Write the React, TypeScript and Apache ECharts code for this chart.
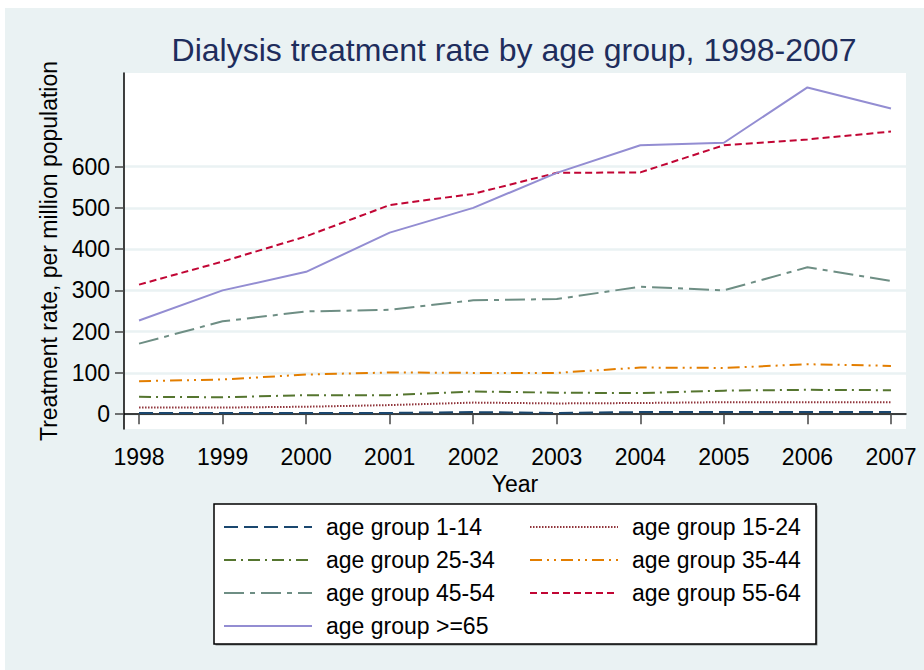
import React, { useEffect, useRef } from "react";
import * as echarts from "echarts";

const years = [1998, 1999, 2000, 2001, 2002, 2003, 2004, 2005, 2006, 2007];
const yTicks = [0, 100, 200, 300, 400, 500, 600];

const age1_14 = [3, 3, 3, 3, 5, 3, 5, 5, 5, 5];
const age15_24 = [16, 16, 18, 22, 28, 26, 27, 29, 29, 29];
const age25_34 = [42, 41, 46, 46, 55, 52, 51, 57, 59, 58];
const age35_44 = [80, 84, 96, 101, 100, 100, 113, 112, 121, 117];
const age45_54 = [171, 225, 249, 253, 276, 279, 309, 300, 356, 323];
const age55_64 = [314, 370, 431, 507, 534, 585, 586, 652, 666, 685];
const age65 = [227, 300, 345, 440, 500, 585, 652, 658, 792, 741];

const seriesNames = [
  "age group 1-14",
  "age group 15-24",
  "age group 25-34",
  "age group 35-44",
  "age group 45-54",
  "age group 55-64",
  "age group >=65",
];
const seriesValues = [age1_14, age15_24, age25_34, age35_44, age45_54, age55_64, age65];
const seriesColors = ["#1a476f", "#90353b", "#55752f", "#e37e00", "#6e8e84", "#c10534", "#938dd2"];
const seriesDash: any[] = [
  [14, 6],
  [1.5, 1.5],
  [12, 5, 2, 5],
  [12, 5, 2, 5, 2, 5],
  [20, 6, 5, 6],
  [7, 4],
  "solid",
];

const FONT = "Liberation Sans";

export default function App() {
  const ref = useRef<HTMLDivElement>(null);
  useEffect(() => {
    if (!ref.current) return;
    const chart = echarts.init(ref.current, null, { renderer: "svg" });
    const legendStyle = {
      orient: "vertical" as const,
      top: 510,
      itemWidth: 88,
      itemHeight: 14,
      itemGap: 9,
      itemStyle: { opacity: 0, borderWidth: 0 },
      textStyle: {
        fontFamily: FONT,
        fontSize: 23,
        color: "#000",
        lineHeight: 24,
        padding: [0, 0, 0, 9],
      },
    };
    chart.setOption({
      animation: false,
      backgroundColor: "#ffffff",
      textStyle: { fontFamily: FONT },
      graphic: [
        {
          type: "rect",
          z: -10,
          shape: { x: 5, y: 8, width: 919, height: 662 },
          style: { fill: "#EAF2F3" },
        },
        {
          type: "rect",
          z: 1,
          shape: { x: 215.5, y: 505.5, width: 602, height: 140 },
          style: { fill: "#8a9090" },
        },
        {
          type: "rect",
          z: 2,
          shape: { x: 214, y: 504, width: 602, height: 140 },
          style: { fill: "#ffffff", stroke: "#000000", lineWidth: 1.5 },
        },
        {
          type: "text",
          z: 5,
          x: 514,
          y: 50,
          style: {
            text: "Dialysis treatment rate by age group, 1998-2007",
            font: `32px "${FONT}"`,
            fill: "#1e2d5c",
            textAlign: "center",
            textVerticalAlign: "middle",
          },
        },
      ],
      grid: {
        left: 124,
        right: 18,
        top: 73,
        bottom: 241,
        show: true,
        backgroundColor: "#ffffff",
        borderWidth: 0,
      },
      xAxis: {
        type: "value",
        min: 1997.82,
        max: 2007.18,
        name: "Year",
        nameLocation: "middle",
        nameGap: 38,
        nameTextStyle: { fontFamily: FONT, fontSize: 23, color: "#000" },
        axisLine: { show: true, lineStyle: { color: "#000", width: 1.5 } },
        axisTick: {
          show: true,
          length: 10,
          customValues: years,
          lineStyle: { color: "#444", width: 1.5 },
        },
        axisLabel: {
          customValues: years,
          margin: 16,
          fontFamily: FONT,
          fontSize: 23,
          color: "#000",
          formatter: (v: number) => String(v),
        },
        splitLine: { show: false },
      },
      yAxis: {
        type: "value",
        min: -36,
        max: 827,
        name: "Treatment rate, per million population",
        nameLocation: "middle",
        nameGap: 64,
        nameTextStyle: { fontFamily: FONT, fontSize: 23, color: "#000" },
        axisLine: { show: true, lineStyle: { color: "#000", width: 1.5 } },
        axisTick: {
          show: true,
          length: 9,
          customValues: yTicks,
          lineStyle: { color: "#444", width: 1.5 },
        },
        axisLabel: {
          customValues: yTicks,
          margin: 14,
          fontFamily: FONT,
          fontSize: 23,
          color: "#000",
        },
        splitLine: { show: true, lineStyle: { color: "#EAF2F3", width: 2.5 } },
      },
      legend: [
        {
          ...legendStyle,
          left: 218,
          data: [seriesNames[0], seriesNames[2], seriesNames[4], seriesNames[6]],
        },
        {
          ...legendStyle,
          left: 524,
          data: [seriesNames[1], seriesNames[3], seriesNames[5]],
        },
      ],
      series: seriesNames.map((name, i) => ({
        name,
        type: "line",
        symbol: "none",
        showSymbol: false,
        data: years.map((y, j) => [y, seriesValues[i][j]]),
        itemStyle: { color: seriesColors[i] },
        lineStyle: { color: seriesColors[i], width: 2, type: seriesDash[i] },
        z: 3,
      })),
    });
    return () => chart.dispose();
  }, []);
  return (
    <div
      ref={ref}
      style={{ position: "absolute", left: 0, top: 0, width: 924, height: 670 }}
    />
  );
}
